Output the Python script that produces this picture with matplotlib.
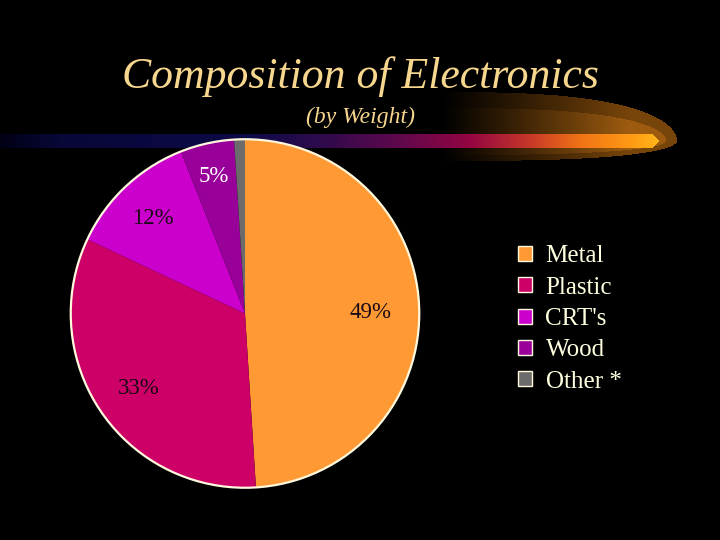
import numpy as np
import matplotlib
matplotlib.use("Agg")
import matplotlib.pyplot as plt
from matplotlib.patches import Patch, Circle

# ---- data ----
categories = ["Metal", "Plastic", "CRT's", "Wood", "Other *"]
values = [49, 33, 12, 5, 1]
pct_labels = ["49%", "33%", "12%", "5%", ""]
colors = ["#FF9933", "#CC0066", "#CC00CC", "#990099", "#6B6B6B"]
label_colors = ["#1a0a14", "#1a0a14", "#1a0a14", "#FFFFFF", "#FFFFFF"]
label_dist = [0.72, 0.74, 0.77, 0.82, 0.8]

title = "Composition of Electronics"
subtitle = "(by Weight)"

W, H = 720, 540
fig = plt.figure(figsize=(7.2, 5.4), dpi=100, facecolor="black")

# ---- decorative background swoosh ----
yy, xx = np.mgrid[0:H, 0:W] + 0.5

def ell(cx, cy, a, bt, bb):
    b = np.where(yy < cy, bt, bb)
    return np.abs((xx - cx) / a) ** 3 + ((yy - cy) / b) ** 2

ramp = np.clip((xx - 440) / 190, 0, 1) ** 1.1
d1 = ell(430, 141, 247, 49, 20)
d2 = ell(430, 141, 236, 33, 14)
col = np.zeros((H, W, 3))
col[d1 <= 1] = [0.47, 0.27, 0.04]
col[d2 <= 1] = [0.62, 0.36, 0.06]
img = col * ramp[..., None]

stops_x = [0, 60, 250, 330, 400, 470, 530, 580, 630, 660]
stops_c = np.array([
    [0.0, 0.0, 0.08],
    [0.03, 0.03, 0.22],
    [0.05, 0.04, 0.28],
    [0.2, 0.04, 0.3],
    [0.38, 0.03, 0.3],
    [0.58, 0.02, 0.26],
    [0.78, 0.22, 0.16],
    [0.94, 0.45, 0.08],
    [1.0, 0.6, 0.08],
    [1.0, 0.72, 0.1],
])
barcol = np.stack([np.interp(xx[0], stops_x, stops_c[:, k]) for k in range(3)], axis=-1)
tip = 652 + 7 * (1 - np.abs(yy - 141) / 7.5)
bar = (yy >= 134) & (yy <= 148) & (xx <= tip)
img[bar] = np.broadcast_to(barcol, (H, W, 3))[bar]

bg = fig.add_axes([0, 0, 1, 1])
bg.imshow(img, extent=[0, W, H, 0], interpolation="bilinear", aspect="auto")
bg.set_xlim(0, W)
bg.set_ylim(H, 0)
bg.axis("off")

# ---- titles ----
fig.text(0.5, 1 - 88 / H, title, ha="center", va="baseline",
         fontsize=31.5, family="Liberation Serif", style="italic", color="#F7D68E")
fig.text(0.5, 1 - 123 / H, subtitle, ha="center", va="baseline",
         fontsize=17, family="Liberation Serif", style="italic", color="#F7D68E")

# ---- pie ----
cx, cy, r = 245, 313.5, 176
ax = fig.add_axes([(cx - r) / W, 1 - (cy + r) / H, 2 * r / W, 2 * r / H])
ax.set_facecolor("none")
wedges, _ = ax.pie(values, colors=colors, startangle=90, counterclock=False,
                   radius=1, wedgeprops=dict(linewidth=0))
ax.add_patch(Circle((0, 0), 1, fill=False, edgecolor="#FFF8DC", linewidth=1.6))
for w, lab, lc, dist in zip(wedges, pct_labels, label_colors, label_dist):
    if not lab:
        continue
    th = np.deg2rad((w.theta1 + w.theta2) / 2)
    ax.text(dist * np.cos(th), dist * np.sin(th), lab, ha="center",
            va="center_baseline",
            fontsize=16.5, family="Liberation Serif", color=lc)
ax.set_xlim(-1.01, 1.01)
ax.set_ylim(-1.01, 1.01)
ax.axis("off")

# ---- legend ----
handles = [Patch(facecolor=c, edgecolor="#FFF8DC", linewidth=1.0) for c in colors]
leg = fig.legend(handles, categories, loc="upper left",
                 bbox_to_anchor=(518 / W, 1 - 245.5 / H), frameon=False,
                 prop=dict(family="Liberation Serif", size=18),
                 handlelength=0.55, handleheight=0.55, handletextpad=0.55,
                 labelspacing=0.37, borderpad=0, borderaxespad=0)
for t in leg.get_texts():
    t.set_color("#FFFFE0")

fig.savefig("out.png", dpi=100, facecolor="black")
